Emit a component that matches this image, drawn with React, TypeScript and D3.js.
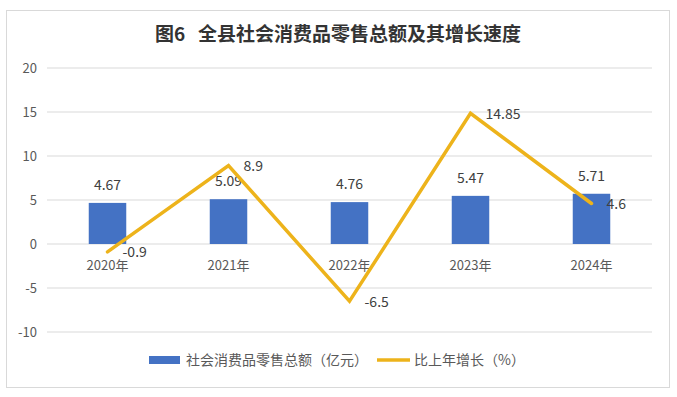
import React from 'react'
import * as d3 from 'd3'

const years = ['2020年', '2021年', '2022年', '2023年', '2024年']
const retailSales = [4.67, 5.09, 4.76, 5.47, 5.71]
const growthRate = [-0.9, 8.9, -6.5, 14.85, 4.6]
const yTicks = [20, 15, 10, 5, 0, -5, -10]

const W = 677
const H = 397
const margin = { top: 68, right: 25, bottom: 65, left: 47 }
const font = '"Noto Sans CJK SC", "Microsoft YaHei", sans-serif'

export default function App() {
  const innerW = W - margin.left - margin.right
  const x = d3.scaleBand().domain(years).range([margin.left, margin.left + innerW]).padding(0)
  const y = d3.scaleLinear().domain([-10, 20]).range([332, 68])
  const barW = x.bandwidth() * 0.31
  const cx = (d: string) => (x(d) as number) + x.bandwidth() / 2

  const line = d3.line<number>()
    .x((_, i) => cx(years[i]))
    .y(d => y(d))

  return (
    <svg width={W} height={H} style={{ position: 'absolute', left: 0, top: 0 }}>
      <rect x={0} y={0} width={W} height={H} fill="#fff" />
      <rect x={6.5} y={10.5} width={663} height={377} fill="#fff" stroke="#d9d9d9" />
      <text x={338} y={41} textAnchor="middle" fontFamily={font} fontWeight="bold" fontSize={19} fill="#333" style={{ whiteSpace: 'pre' }}>
        {'图6   全县社会消费品零售总额及其增长速度'}
      </text>

      {yTicks.map(t => (
        <g key={t}>
          <line x1={margin.left} x2={W - margin.right} y1={y(t)} y2={y(t)} stroke="#d9d9d9" />
          <text x={37} y={y(t)} dy="0.35em" textAnchor="end" fontFamily={font} fontSize={13} fill="#595959">{t}</text>
        </g>
      ))}

      {years.map((d, i) => (
        <g key={d}>
          <rect x={cx(d) - barW / 2} y={y(retailSales[i])} width={barW} height={y(0) - y(retailSales[i])} fill="#4472C4" />
          <text x={cx(d)} y={y(retailSales[i]) - 13} textAnchor="middle" fontFamily={font} fontSize={14} fill="#404040">{retailSales[i]}</text>
          <text x={cx(d)} y={270} textAnchor="middle" fontFamily={font} fontSize={13} fill="#595959">{d}</text>
        </g>
      ))}

      <path d={line(growthRate) || ''} fill="none" stroke="#EDB31B" strokeWidth={3.5} strokeLinejoin="miter" strokeLinecap="round" />
      {years.map((d, i) => (
        <text key={d} x={cx(d) + 15} y={y(growthRate[i])} dy="0.38em" fontFamily={font} fontSize={14} fill="#404040">{growthRate[i]}</text>
      ))}

      <g fontFamily={font} fontSize={14} fill="#595959">
        <rect x={149} y={356} width={31} height={8} fill="#4472C4" />
        <text x={186} y={360} dy="0.35em">社会消费品零售总额（亿元）</text>
        <line x1={377} x2={410} y1={360} y2={360} stroke="#EDB31B" strokeWidth={3.5} />
        <text x={414} y={360} dy="0.35em">比上年增长（%）</text>
      </g>
    </svg>
  )
}
